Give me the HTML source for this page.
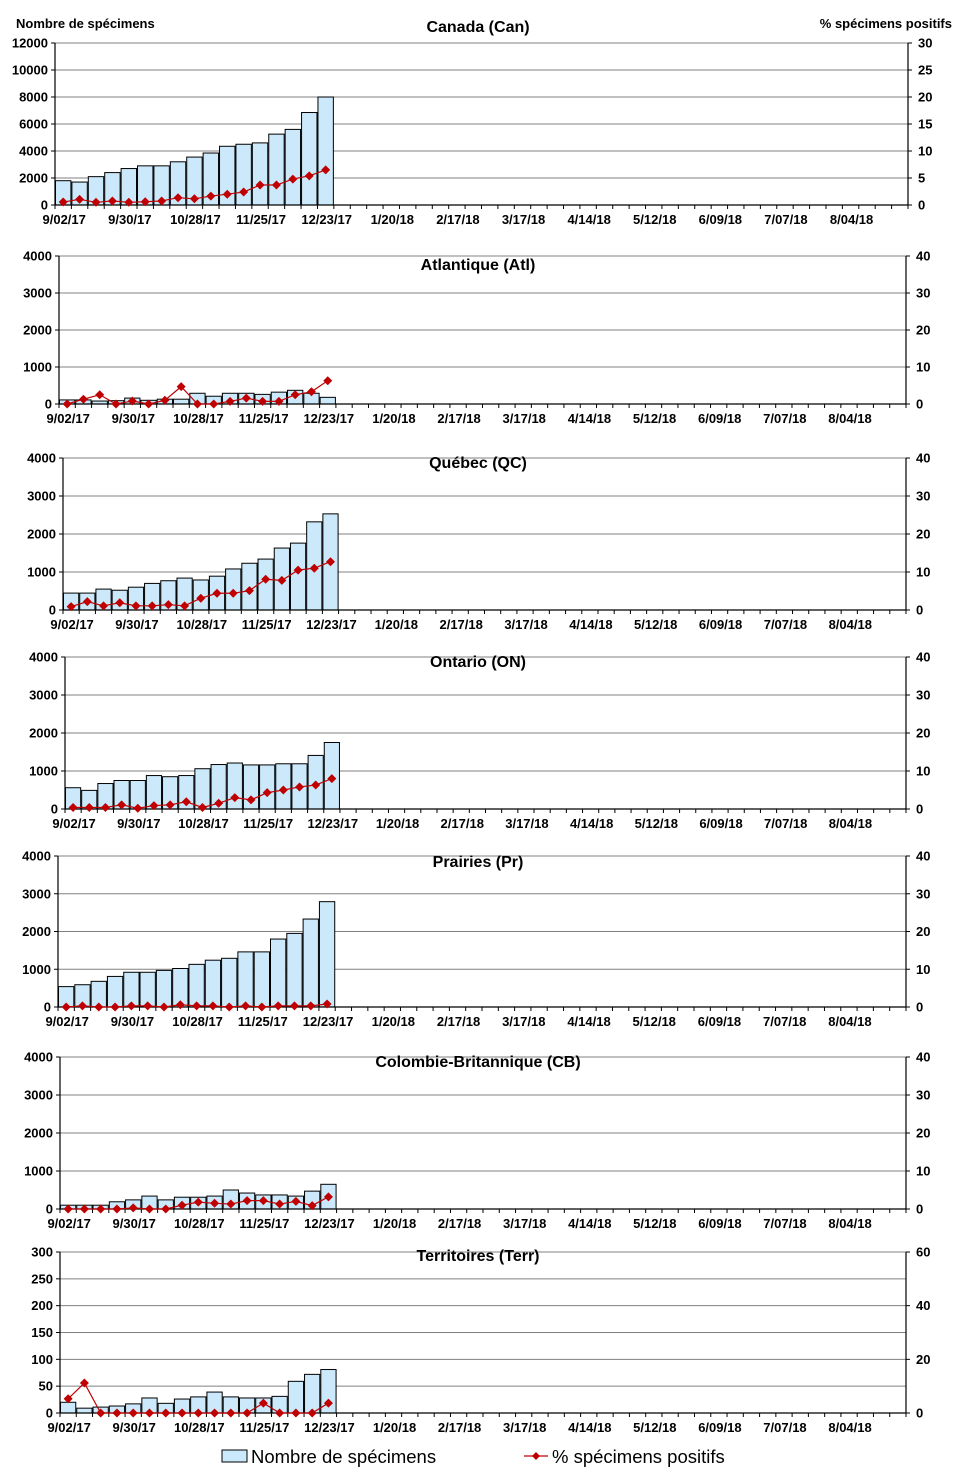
<!DOCTYPE html>
<html><head><meta charset="utf-8">
<style>
body{margin:0;background:#fff;width:958px;height:1477px;overflow:hidden}
svg{display:block;font-family:"Liberation Sans",Arial,sans-serif}
</style></head>
<body>
<svg id="chart" width="958" height="1477" viewBox="0 0 958 1477" xmlns="http://www.w3.org/2000/svg">
<text x="16" y="28" font-size="13" font-weight="bold">Nombre de spécimens</text>
<text x="952" y="28" font-size="13" font-weight="bold" text-anchor="end">% spécimens positifs</text>
<g>
<rect x="222" y="1450" width="25" height="12" fill="#cce9fb" stroke="#000" stroke-width="1"/>
<text x="251" y="1463" font-size="18.5">Nombre de spécimens</text>
<line x1="524" y1="1456" x2="548" y2="1456" stroke="#c00000" stroke-width="1.2"/>
<path d="M536 1452 L540 1456 L536 1460 L532 1456 Z" fill="#c00000"/>
<text x="552" y="1463" font-size="18.5">% spécimens positifs</text>
</g>
</svg>
<script>
const weekLabels = ["9/02/17","9/30/17","10/28/17","11/25/17","12/23/17","1/20/18","2/17/18","3/17/18","4/14/18","5/12/18","6/09/18","7/07/18","8/04/18"];
const panelTitles = ["Canada (Can)","Atlantique (Atl)","Québec (QC)","Ontario (ON)","Prairies (Pr)","Colombie-Britannique (CB)","Territoires (Terr)"];
const canCounts = [1800,1700,2100,2400,2700,2900,2900,3200,3550,3850,4350,4500,4600,5250,5600,6850,8000];
const canPct = [0.55,1.05,0.5,0.75,0.5,0.6,0.75,1.35,1.15,1.65,2.0,2.4,3.7,3.7,4.8,5.4,6.5];
const atlCounts = [110,110,80,90,160,100,130,130,290,210,290,290,260,320,370,290,180];
const atlPct = [0,1.3,2.5,0,0.8,0,1,4.7,0,0,0.7,1.6,0.7,0.7,2.5,3.3,6.3];
const qcCounts = [445,445,550,520,600,700,770,840,790,890,1080,1230,1340,1630,1760,2320,2530];
const qcPct = [0.9,2.2,1.1,1.9,1.1,1.1,1.4,1.1,3.1,4.4,4.4,5.1,8.1,7.8,10.5,11,12.7];
const onCounts = [560,490,670,750,750,880,850,880,1060,1170,1210,1160,1160,1190,1190,1410,1750];
const onPct = [0.4,0.4,0.4,1.1,0.2,0.9,1.1,1.9,0.4,1.5,3,2.4,4.3,5,5.8,6.3,8];
const prCounts = [540,590,680,810,920,920,970,1020,1130,1240,1290,1460,1460,1800,1950,2330,2790];
const prPct = [0,0.3,0,0,0.3,0.3,0,0.6,0.3,0.3,0,0.3,0,0.3,0.3,0.3,0.8];
const cbCounts = [100,100,100,190,240,340,240,310,310,340,500,420,370,370,340,470,650];
const cbPct = [0,0,0,0,0.3,0,0,1,1.8,1.5,1.3,2.2,2.2,1.3,2,0.9,3.2];
const terrCounts = [20,9,11,13,17,28,18,26,30,39,30,28,28,31,59,72,81];
const terrPct = [5.3,11.2,0,0,0,0,0,0,0,0,0,0,3.7,0,0,0,3.7];
const leftTicks = [[0,2000,4000,6000,8000,10000,12000],[0,1000,2000,3000,4000],[0,1000,2000,3000,4000],[0,1000,2000,3000,4000],[0,1000,2000,3000,4000],[0,1000,2000,3000,4000],[0,50,100,150,200,250,300]];
const rightTicks = [[0,5,10,15,20,25,30],[0,10,20,30,40],[0,10,20,30,40],[0,10,20,30,40],[0,10,20,30,40],[0,10,20,30,40],[0,20,40,60]];
const allCounts = [canCounts,atlCounts,qcCounts,onCounts,prCounts,cbCounts,terrCounts];
const allPct = [canPct,atlPct,qcPct,onPct,prPct,cbPct,terrPct];
const nWeeks = 52;

const layout = [
 {l:55,r:908,t:43,b:205,ty:32},
 {l:59,r:906,t:256,b:404,ty:270},
 {l:63,r:906,t:458,b:610,ty:468},
 {l:65,r:906,t:657,b:809,ty:667},
 {l:58,r:906,t:856,b:1007,ty:867},
 {l:60,r:906,t:1057,b:1209,ty:1067},
 {l:60,r:906,t:1252,b:1413,ty:1261}
];
const NS="http://www.w3.org/2000/svg";
const svg=document.getElementById('chart');
function mk(tag,attrs,parent){const e=document.createElementNS(NS,tag);for(const k in attrs)e.setAttribute(k,attrs[k]);(parent||svg).appendChild(e);return e;}

layout.forEach((L,p)=>{
 const g=mk('g',{});
 
 
 const lt=leftTicks[p], rt=rightTicks[p];
 const lmax=lt[lt.length-1], rmax=rt[rt.length-1];
 const cw=(L.r-L.l)/nWeeks;
 const x=i=>L.l+i*cw;
 const yL=v=>L.b-(v/lmax)*(L.b-L.t);
 const yR=v=>L.b-(v/rmax)*(L.b-L.t);
 lt.forEach(v=>{
  const y=yL(v);
  if(v>0){const gl=mk('line',{x1:L.l,x2:L.r,y1:y,y2:y,stroke:'#808080','stroke-width':1},g);
   
   }
  mk('line',{x1:L.l-4,x2:L.l,y1:y,y2:y,stroke:'#000'},g);
  const t=mk('text',{x:L.l-7,y:y+4.5,'font-size':13,'font-weight':'bold','text-anchor':'end'},g);
  t.textContent=v;
  
  
 });
 rt.forEach(v=>{
  const y=yR(v);
  mk('line',{x1:L.r,x2:L.r+4,y1:y,y2:y,stroke:'#000'},g);
  const t=mk('text',{x:L.r+10,y:y+4.5,'font-size':13,'font-weight':'bold'},g);
  t.textContent=v;
  
  
 });
 allCounts[p].forEach((v,i)=>{
  const b=mk('rect',{x:x(i)+0.5,y:yL(v),width:cw-1,height:L.b-yL(v),fill:'#cce9fb',stroke:'#000','stroke-width':1},g);
  
  
 });
 mk('line',{x1:L.l,x2:L.l,y1:L.t,y2:L.b,stroke:'#000','stroke-width':1.2},g);
 mk('line',{x1:L.r,x2:L.r,y1:L.t,y2:L.b,stroke:'#000','stroke-width':1.2},g);
 mk('line',{x1:L.l,x2:L.r,y1:L.b,y2:L.b,stroke:'#000','stroke-width':1.2},g);
 for(let i=0;i<=nWeeks;i++){mk('line',{x1:x(i),x2:x(i),y1:L.b,y2:L.b+4,stroke:'#000'},g);}
 weekLabels.forEach((s,k)=>{
  const t=mk('text',{x:x(k*4)+cw/2+1,y:L.b+19,'font-size':13,'font-weight':'bold','text-anchor':'middle'},g);
  t.textContent=s;
  
  
 });
 const pts=allPct[p].map((v,i)=>[x(i)+cw/2,yR(v)]);
 const pl=mk('polyline',{points:pts.map(q=>q.join(',')).join(' '),fill:'none',stroke:'#c00000','stroke-width':1.2},g);
 
 
 pts.forEach(([px,py])=>{
  const m=mk('path',{d:`M${px} ${py-4.5} L${px+4.5} ${py} L${px} ${py+4.5} L${px-4.5} ${py} Z`,fill:'#c00000'},g);
  
  
 });
 const tt=mk('text',{x:478,y:L.ty,'font-size':16,'font-weight':'bold','text-anchor':'middle'},g);
 tt.textContent=panelTitles[p];
 
 
});
</script>
</body></html>
